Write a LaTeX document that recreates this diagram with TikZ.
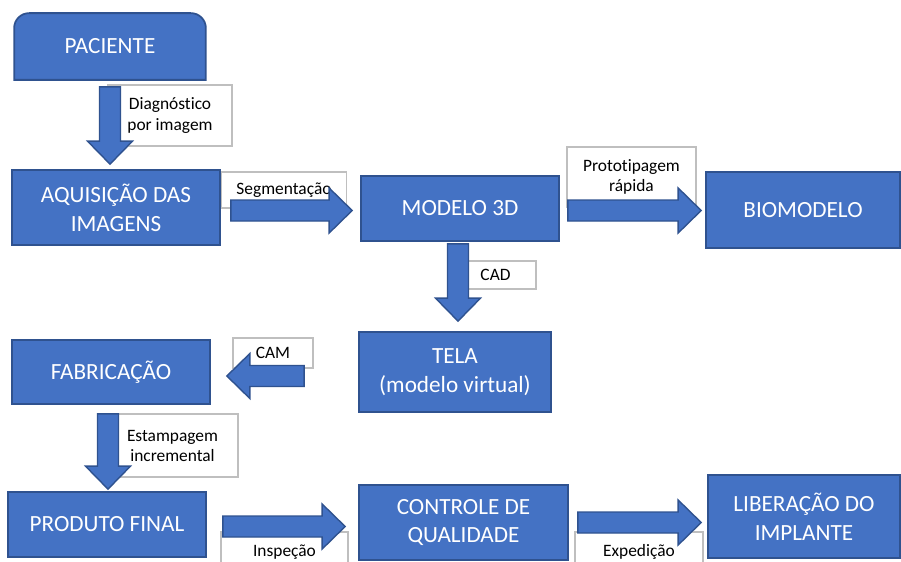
\documentclass[tikz,border=0pt]{standalone}
\usepackage{fontspec}
\setmainfont{Carlito}[Ligatures=NoCommon]
\usepackage{tikz}
\usetikzlibrary{positioning, calc, backgrounds}
\definecolor{azul}{HTML}{4472C4}
\definecolor{azulborda}{HTML}{2F528F}
\definecolor{cinza}{HTML}{BFBFBF}
\tikzset{
  etapa/.style={rectangle, draw=azulborda, fill=azul, line width=1pt, text=white, align=center, inner sep=0pt, font=\fontsize{13.2}{16.5}\selectfont},
  rotulo/.style={rectangle, draw=cinza, fill=white, line width=0.6pt, align=center, inner sep=0pt, font=\fontsize{9.9}{11.4}\selectfont},
  seta/.style={draw=azulborda, fill=azul, line width=0.8pt,
    to path={let \p1=(\tikztostart), \p2=(\tikztotarget), \p3=($(\p2)!0.46cm!(\p1)$) in
      ($(\p1)!0.21cm!90:(\p2)$) -- ($(\p3)!0.21cm!90:(\p2)$) -- ($(\p3)!0.45cm!90:(\p2)$) -- (\p2)
      -- ($(\p3)!0.45cm!-90:(\p2)$) -- ($(\p3)!0.21cm!-90:(\p2)$) -- ($(\p1)!0.21cm!-90:(\p2)$) -- cycle}}
}

\begin{document}
\begin{tikzpicture}[x=0.02cm, y=-0.02cm]
    \useasboundingbox (0,0) rectangle (901,561);

    % Etapas do processo
    \node (pac) [etapa, draw=none, fill=none, minimum width=3.8cm, minimum height=1.3cm] at (110,46.5) {PACIENTE};
    \node (aqu) [etapa, minimum width=4.16cm, minimum height=1.5cm] at (116,207.5) {AQUISIÇÃO DAS\\IMAGENS};
    \node (mod) [etapa, minimum width=3.96cm, minimum height=1.3cm] at (460,208.5) {MODELO 3D};
    \node (bio) [etapa, minimum width=3.88cm, minimum height=1.52cm] at (803,210) {BIOMODELO};
    \node (tela) [etapa, minimum width=3.84cm, minimum height=1.6cm] at (455,372) {TELA\\(modelo virtual)};
    \node (fab) [etapa, minimum width=3.96cm, minimum height=1.28cm] at (111,372) {FABRICAÇÃO};
    \node (prod) [etapa, minimum width=3.96cm, minimum height=1.3cm] at (107,524.5) {PRODUTO FINAL};
    \node (ctrl) [etapa, minimum width=4.18cm, minimum height=1.5cm] at (463.5,522.5) {CONTROLE DE\\QUALIDADE};
    \node (lib) [etapa, minimum width=3.84cm, minimum height=1.66cm] at (804,516.5) {LIBERAÇÃO DO\\IMPLANTE};
    \begin{pgfonlayer}{background}
        \draw [draw=azulborda, fill=azul, line width=1pt] (pac.south west) [rounded corners=0.3cm] -- (pac.north west) -- (pac.north east) [sharp corners] -- (pac.south east) -- cycle;
    \end{pgfonlayer}

    % Rotulos das setas
    \node (r1) [rotulo, minimum width=2.48cm, minimum height=1.22cm] at (170,115.5) {Diagnóstico\\por imagem};
    \node (r2) [rotulo, minimum width=2.5cm, minimum height=0.72cm] at (284,190) {Segmentação};
    \node (r3) [rotulo, minimum width=2.58cm, minimum height=1.2cm] at (631.5,177) {Prototipagem\\rápida};
    \node (r4) [rotulo, minimum width=1.62cm, minimum height=0.56cm] at (495.5,275) {CAD};
    \node (r5) [rotulo, minimum width=1.6cm, minimum height=0.6cm] at (273,353) {CAM};
    \node (r6) [rotulo, minimum width=2.62cm, minimum height=1.26cm] at (172.5,445.5) {Estampagem\\incremental};
    \node (r7) [rotulo, minimum width=2.54cm, minimum height=0.8cm] at (284.5,552) {Inspeção};
    \node (r8) [rotulo, minimum width=2.56cm, minimum height=0.8cm] at (639,552) {Expedição};

    % Setas
    \draw [seta] ($(pac.south)+(0,7)$) to ($(pac.south |- aqu.north)+(0,-5)$);
    \draw [seta] ($(aqu.east)+(10,3)$) to ($(aqu.east -| mod.west)+(-8,3)$);
    \draw [seta] ($(mod.east)+(8,2)$) to ($(mod.east -| bio.west)+(-4,2)$);
    \draw [seta] ($(mod.south)+(-2,2)$) to ($(mod.south |- tela.north)+(-2,-10)$);
    \draw [seta] ($(tela.west)+(-54,4)$) to ($(tela.west -| fab.east)+(16,4)$);
    \draw [seta] ($(fab.south)+(-3,9)$) to ($(fab.south |- prod.north)+(-3,-2)$);
    \draw [seta] ($(prod.east)+(16,2)$) to ($(prod.east -| ctrl.west)+(-13,2)$);
    \draw [seta] ($(ctrl.east)+(9,0)$) to ($(ctrl.east -| lib.west)+(-6,0)$);

\end{tikzpicture}
\end{document}
